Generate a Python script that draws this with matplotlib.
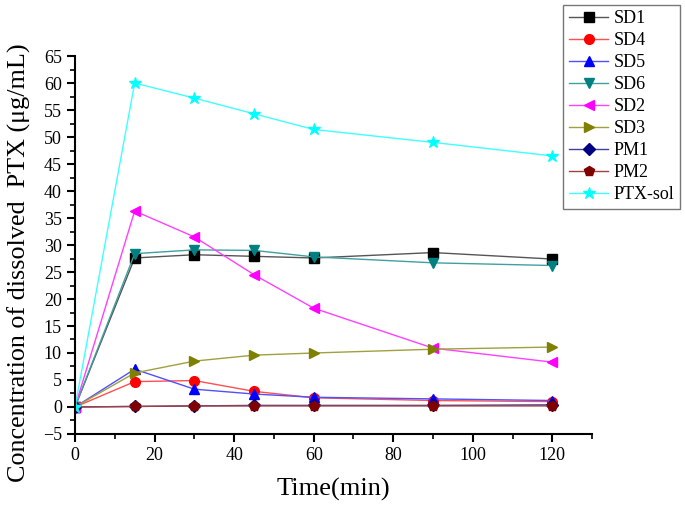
import matplotlib
matplotlib.use('Agg')
import matplotlib.pyplot as plt
from matplotlib.ticker import MultipleLocator

plt.rcParams['font.family'] = ['Liberation Serif', 'DejaVu Serif']

time = [0, 15, 30, 45, 60, 90, 120]

sd1 = [0, 27.6, 28.2, 27.9, 27.6, 28.6, 27.4]
sd4 = [0, 4.7, 4.9, 2.9, 1.7, 1.2, 1.0]
sd5 = [0, 7.0, 3.3, 2.4, 1.8, 1.5, 1.2]
sd6 = [0, 28.4, 29.1, 29.0, 27.8, 26.7, 26.2]
sd2 = [0, 36.3, 31.5, 24.5, 18.3, 10.9, 8.3]
sd3 = [0, 6.3, 8.5, 9.6, 10.0, 10.7, 11.1]
pm1 = [0, 0.1, 0.2, 0.3, 0.3, 0.3, 0.4]
pm2 = [0, 0.1, 0.2, 0.2, 0.2, 0.2, 0.2]
ptx_sol = [0, 60.0, 57.2, 54.3, 51.4, 49.0, 46.5]

series = [
    ('SD1', sd1, 's', '#000000', '#555555'),
    ('SD4', sd4, 'o', '#ff0000', '#ff5050'),
    ('SD5', sd5, '^', '#0000ff', '#5050ff'),
    ('SD6', sd6, 'v', '#008080', '#40a0a0'),
    ('SD2', sd2, '<', '#ff00ff', '#ff40ff'),
    ('SD3', sd3, '>', '#808000', '#a0a040'),
    ('PM1', pm1, 'D', '#000080', '#4040a0'),
    ('PM2', pm2, 'p', '#800000', '#a04040'),
    ('PTX-sol', ptx_sol, '*', '#00ffff', '#40ffff'),
]

fig = plt.figure(figsize=(6.85, 5.07), dpi=100)
ax = fig.add_axes([0.1095, 0.144, 0.755, 0.7455])

for name, vals, mk, mcol, lcol in series:
    ms = 9 if mk == '*' else 7
    if mk == 'D':
        ms = 6
    ax.plot(time, vals, color=lcol, lw=1.0, marker=mk, markersize=ms,
            markerfacecolor=mcol, markeredgecolor=mcol, label=name)

ax.set_xlim(0, 130)
ax.set_ylim(-5, 65)
ax.xaxis.set_major_locator(MultipleLocator(20))
ax.xaxis.set_minor_locator(MultipleLocator(10))
ax.yaxis.set_major_locator(MultipleLocator(5))
ax.yaxis.set_minor_locator(MultipleLocator(2.5))
ax.spines['top'].set_visible(False)
ax.spines['right'].set_visible(False)
for s in ('left', 'bottom'):
    ax.spines[s].set_linewidth(1.5)
ax.tick_params(which='major', direction='out', length=6, width=1.5, labelsize=13)
ax.tick_params(which='minor', direction='out', length=3.5, width=1.2)

ax.set_xlabel('Time(min)', fontsize=19, labelpad=10)
ax.set_ylabel('Concentration of dissolved  PTX (\u03bcg/mL)', fontsize=18.8, labelpad=11)
ax.yaxis.set_label_coords(-0.085, 0.452)

leg = fig.legend(loc='upper right', bbox_to_anchor=(0.998, 0.998), fontsize=13,
                 frameon=True, fancybox=False, edgecolor='#555555',
                 handlelength=2.2, handletextpad=0.3, labelspacing=0.28,
                 borderpad=0.3, borderaxespad=0.2)
leg.get_frame().set_linewidth(1.0)

fig.savefig('out.png', dpi=100)
